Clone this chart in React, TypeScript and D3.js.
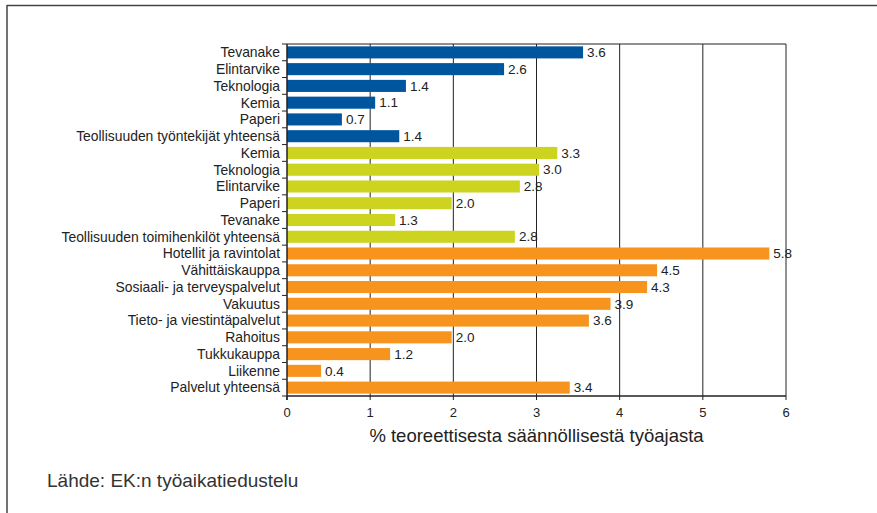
import React from "react";
import * as d3 from "d3";

const categories = [
  "Tevanake", "Elintarvike", "Teknologia", "Kemia", "Paperi",
  "Teollisuuden työntekijät yhteensä",
  "Kemia", "Teknologia", "Elintarvike", "Paperi", "Tevanake",
  "Teollisuuden toimihenkilöt yhteensä",
  "Hotellit ja ravintolat", "Vähittäiskauppa", "Sosiaali- ja terveyspalvelut",
  "Vakuutus", "Tieto- ja viestintäpalvelut", "Rahoitus", "Tukkukauppa",
  "Liikenne", "Palvelut yhteensä",
];
const groups = [
  "workers", "workers", "workers", "workers", "workers", "workers",
  "officials", "officials", "officials", "officials", "officials", "officials",
  "services", "services", "services", "services", "services", "services", "services", "services", "services",
];
const values = [3.56, 2.61, 1.43, 1.06, 0.66, 1.35, 3.25, 3.03, 2.8, 1.98, 1.3, 2.74, 5.8, 4.45, 4.33, 3.89, 3.63, 1.98, 1.24, 0.41, 3.4];
const valueLabels = ["3.6", "2.6", "1.4", "1.1", "0.7", "1.4", "3.3", "3.0", "2.8", "2.0", "1.3", "2.8", "5.8", "4.5", "4.3", "3.9", "3.6", "2.0", "1.2", "0.4", "3.4"];
const xTicks = [0, 1, 2, 3, 4, 5, 6];
const groupColors: Record<string, string> = {
  workers: "#00559f",
  officials: "#cdd420",
  services: "#f7941e",
};
const axisTitle = "% teoreettisesta säännöllisestä työajasta";
const sourceText = "Lähde: EK:n työaikatiedustelu";

export default function App() {
  const W = 877, H = 513;
  const left = 287, right = 786, top = 44, bottom = 396;
  const x = d3.scaleLinear().domain([0, 6]).range([left, right]);
  const idx = categories.map((_, i) => i);
  const y = d3.scaleBand<number>().domain(idx).range([top, bottom]).paddingInner(0.28).paddingOuter(0.14);
  const step = y.step();
  const font = "'Liberation Sans', Arial, Helvetica, sans-serif";
  return (
    <svg width={W} height={H} style={{ position: "absolute", left: 0, top: 0, background: "#fff" }} fontFamily={font}>
      {/* page frame */}
      <line x1={7} x2={W} y1={5.5} y2={5.5} stroke="#444" strokeWidth={1.5} />
      <line x1={7} x2={7} y1={5} y2={H} stroke="#444" strokeWidth={1.5} />
      {/* grid */}
      {xTicks.slice(1).map((t) => (
        <line key={t} x1={x(t)} x2={x(t)} y1={top} y2={bottom} stroke="#222" strokeWidth={1} />
      ))}
      <line x1={left} x2={right} y1={top} y2={top} stroke="#222" strokeWidth={1.2} />
      {/* bars */}
      {idx.map((i) => (
        <rect key={i} x={x(0)} y={y(i)} width={x(values[i]) - x(0)} height={y.bandwidth()} fill={groupColors[groups[i]]} />
      ))}
      {idx.map((i) => (
        <text key={i} x={x(values[i]) + 4} y={(y(i) as number) + y.bandwidth() / 2} dy="0.35em" fontSize={13.5} fill="#222">
          {valueLabels[i]}
        </text>
      ))}
      {/* y axis */}
      <line x1={left} x2={left} y1={top} y2={bottom + 4} stroke="#222" strokeWidth={1.5} />
      {d3.range(categories.length + 1).map((k) => (
        <line key={k} x1={left - 5} x2={left} y1={top + k * step} y2={top + k * step} stroke="#222" strokeWidth={1} />
      ))}
      {idx.map((i) => (
        <text key={i} x={left - 7} y={(y(i) as number) + y.bandwidth() / 2} dy="0.35em" textAnchor="end" fontSize={13.9} fill="#222">
          {categories[i]}
        </text>
      ))}
      {/* x axis */}
      <line x1={left} x2={right} y1={bottom} y2={bottom} stroke="#222" strokeWidth={1.5} />
      {xTicks.map((t) => (
        <g key={t}>
          <line x1={x(t)} x2={x(t)} y1={bottom} y2={bottom + 4} stroke="#222" strokeWidth={1} />
          <text x={x(t)} y={417} textAnchor="middle" fontSize={13} fill="#222">{t}</text>
        </g>
      ))}
      <text x={(left + right) / 2} y={442} textAnchor="middle" fontSize={18.5} fill="#222">{axisTitle}</text>
      <text x={47} y={487} fontSize={19} fill="#333">{sourceText}</text>
    </svg>
  );
}
